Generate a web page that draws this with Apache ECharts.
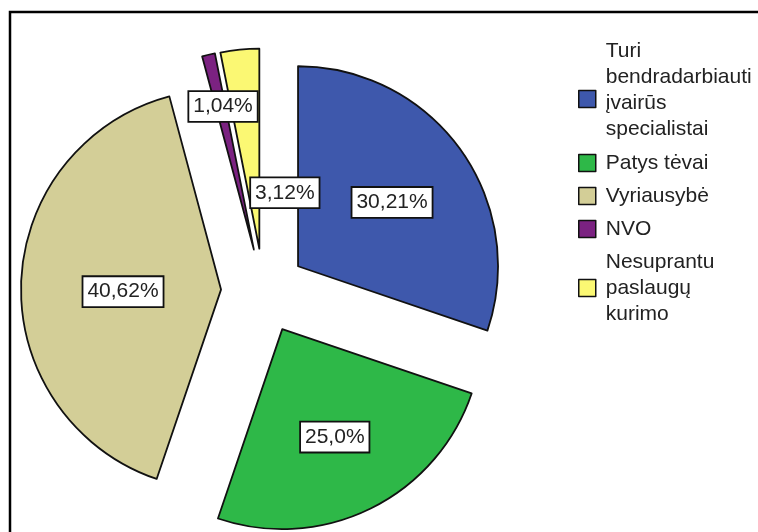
<!DOCTYPE html>
<html>
<head>
<meta charset="utf-8">
<script src="https://cdn.jsdelivr.net/npm/echarts@6/dist/echarts.min.js"></script>
<style>
html,body{margin:0;padding:0;background:#fff;}
#chart{width:758px;height:532px;}
</style>
</head>
<body>
<div id="chart"></div>
<script>
// Data
var categories = [
  'Turi\nbendradarbiauti\nįvairūs\nspecialistai',
  'Patys tėvai',
  'Vyriausybė',
  'NVO',
  'Nesuprantu\npaslaugų\nkurimo'
];
var percentValues = [30.21, 25.0, 40.62, 1.04, 3.12];
var percentLabels = ['30,21%', '25,0%', '40,62%', '1,04%', '3,12%'];

// Styles
var sliceColors = ['#3E58AC', '#2EB848', '#D3CE97', '#7B2281', '#FBF873'];
var labelNudge = [[-6, 4], [-10, 8], [2, 4], [-5, -45], [45, 44]];
var FONT = '"Liberation Sans", Arial, sans-serif';

var chart = echarts.init(document.getElementById('chart'), null, {renderer: 'canvas'});

var seriesData = categories.map(function (name, i) {
  return {
    name: name,
    value: percentValues[i],
    selected: true,
    itemStyle: { color: sliceColors[i] }
  };
});

var labelStyle = {
  show: true,
  position: 'inside',
  formatter: function (p) { return percentLabels[p.dataIndex]; },
  fontFamily: FONT,
  fontSize: 21,
  lineHeight: 23,
  color: '#222',
  backgroundColor: '#fff',
  borderColor: '#111',
  borderWidth: 1.8,
  padding: [3, 4, 3, 4]
};

var textBase = {
  fontFamily: FONT,
  fontSize: 21,
  lineHeight: 26,
  color: '#222'
};

function legendBase(top) {
  return {
    orient: 'vertical',
    left: 578,
    top: top,
    padding: 0,
    itemWidth: 17,
    itemHeight: 17,
    itemGap: 7,
    icon: 'rect',
    selectedMode: false,
    itemStyle: { borderColor: '#111', borderWidth: 1.5 },
    textStyle: {
      fontFamily: FONT,
      fontSize: 21,
      lineHeight: 26,
      color: '#222',
      padding: [0, 0, 0, 5]
    }
  };
}
var legend1 = legendBase(38);
legend1.data = categories.slice(0, 1);
legend1.formatter = function (name) { return '{a|' + name + '}\n{b| }'; };
legend1.textStyle.rich = {
  a: textBase,
  b: { fontFamily: FONT, fontSize: 10, lineHeight: 18 }
};
var legend2 = legendBase(150);
legend2.data = categories.slice(1);

chart.setOption({
  animation: false,
  backgroundColor: '#fff',
  graphic: [{
    type: 'rect',
    silent: true,
    shape: { x: 10, y: 12, width: 900, height: 700 },
    style: { fill: 'none', stroke: '#000', lineWidth: 2.5 }
  }],
  legend: [legend1, legend2],
  series: [{
    type: 'pie',
    center: [263.5, 291],
    radius: [0, 200],
    startAngle: 90,
    clockwise: true,
    selectedMode: 'multiple',
    selectedOffset: 42.5,
    avoidLabelOverlap: false,
    emphasis: { disabled: true, scale: false },
    itemStyle: { borderColor: '#111', borderWidth: 1.8 },
    label: labelStyle,
    labelLine: { show: false },
    select: {
      itemStyle: { borderColor: '#111', borderWidth: 1.8 },
      label: labelStyle
    },
    labelLayout: function (params) {
      var n = labelNudge[params.dataIndex];
      return { dx: n[0], dy: n[1] };
    },
    data: seriesData
  }]
});
</script>
</body>
</html>
